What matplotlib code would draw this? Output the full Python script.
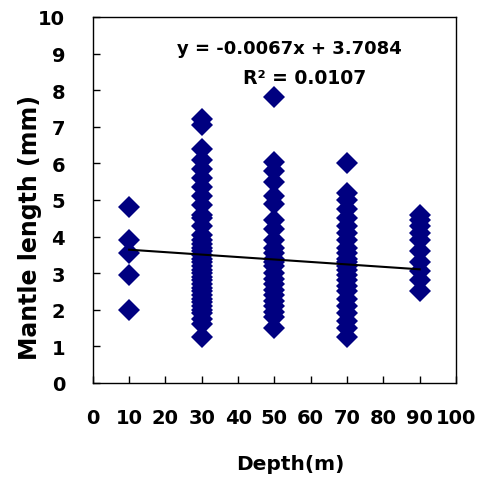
import matplotlib
matplotlib.use("Agg")
import matplotlib.pyplot as plt
import numpy as np

plt.rcParams['font.family'] = ['DejaVu Sans']
plt.rcParams['font.weight'] = 'bold'

depth_10 = [4.8, 3.9, 3.55, 2.95, 2.0]
depth_30 = [7.2, 7.05, 6.4, 6.1, 5.85, 5.6, 5.35, 5.1, 4.85, 4.6, 4.5, 4.3, 4.05, 3.9,
            3.8, 3.7, 3.6, 3.5, 3.4, 3.3, 3.2, 3.1, 3.0, 2.9, 2.8, 2.7, 2.6, 2.5, 2.4,
            2.3, 2.2, 2.1, 2.0, 1.9, 1.75, 1.6, 1.25]
depth_50 = [7.8, 6.05, 5.8, 5.5, 5.1, 4.9, 4.45, 4.2, 3.9, 3.7, 3.55, 3.4, 3.3, 3.2,
            3.0, 2.85, 2.7, 2.55, 2.4, 2.25, 2.1, 1.95, 1.8, 1.5]
depth_70 = [6.0, 5.2, 5.0, 4.75, 4.5, 4.3, 4.1, 3.9, 3.7, 3.55, 3.4, 3.3, 3.2, 3.1,
            2.95, 2.8, 2.65, 2.5, 2.3, 2.1, 1.9, 1.7, 1.5, 1.25]
depth_90 = [4.6, 4.45, 4.3, 4.1, 3.9, 3.6, 3.3, 3.05, 2.8, 2.5]
depths = [10, 30, 50, 70, 90]

slope = -0.0067
intercept = 3.7084
r2 = 0.0107

x_ticks = [0, 10, 20, 30, 40, 50, 60, 70, 80, 90, 100]
y_ticks = [0, 1, 2, 3, 4, 5, 6, 7, 8, 9, 10]

fig = plt.figure(figsize=(4.81, 4.81), dpi=100)
ax = fig.add_axes([0.193, 0.2017, 0.755, 0.761])

groups = [depth_10, depth_30, depth_50, depth_70, depth_90]
for d, vals in zip(depths, groups):
    ax.plot([d] * len(vals), vals, linestyle='none', marker='D', ms=11.5,
            color='#000080', markeredgewidth=0)

xl = np.array([min(depths), max(depths)])
ax.plot(xl, slope * xl + intercept, color='black', lw=1.5)

ax.set_xlim(0, 100)
ax.set_ylim(0, 10)
ax.set_xticks(x_ticks)
ax.set_yticks(y_ticks)
ax.tick_params(axis='both', direction='in', length=5, width=1, labelsize=14)
ax.tick_params(axis='y', pad=20)
ax.tick_params(axis='x', pad=18)
for lab in ax.get_xticklabels() + ax.get_yticklabels():
    lab.set_fontweight('bold')
for s in ax.spines.values():
    s.set_linewidth(1)

fig.text(290 / 481, 1 - 465 / 481, 'Depth(m)', fontsize=14.5, fontweight='bold',
         ha='center', va='center')
fig.text(30 / 481, 1 - 227 / 481, 'Mantle length (mm)', fontsize=17, fontweight='bold',
         ha='center', va='center', rotation=90)

ax.text(0.54, 0.915, f'y = {slope:.4f}x + {intercept:.4f}', transform=ax.transAxes,
        ha='center', va='center', fontsize=13, fontweight='bold')
ax.text(0.584, 0.835, f'R² = {r2:.4f}', transform=ax.transAxes,
        ha='center', va='center', fontsize=13.5, fontweight='bold')

fig.savefig('out.png', dpi=100)
